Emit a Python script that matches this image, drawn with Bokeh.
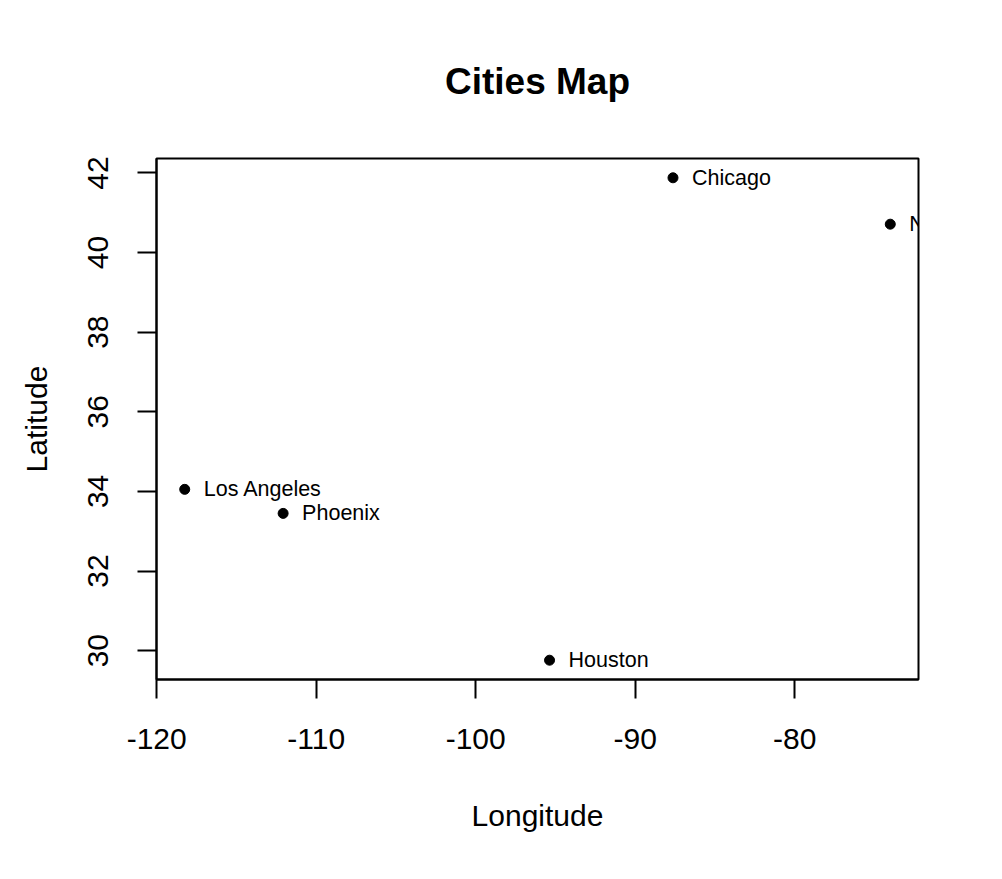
from bokeh.plotting import figure
from bokeh.models import ColumnDataSource, FixedTicker, Range1d, Title
from bokeh.embed import file_html
from bokeh.resources import INLINE
from bokeh.core.properties import value

cities = ["New York", "Los Angeles", "Chicago", "Houston", "Phoenix"]
lon = [-74.0060, -118.2437, -87.6298, -95.3698, -112.0740]
lat = [40.7128, 34.0522, 41.8781, 29.7604, 33.4484]
x_ticks = [-120, -110, -100, -90, -80]
y_ticks = [30, 32, 34, 36, 38, 40, 42]

def r_range(v):
    lo, hi = min(v), max(v)
    d = (hi - lo) * 0.04
    return lo - d, hi + d

xr = r_range(lon)
yr = r_range(lat)

FONT = "Liberation Sans"

p = figure(width=1002, height=879, output_backend="svg", toolbar_location=None,
           x_range=Range1d(*xr), y_range=Range1d(*yr),
           min_border_left=156, min_border_right=84, min_border_top=158, min_border_bottom=200)
p.grid.visible = False
p.background_fill_color = "white"
p.border_fill_color = "white"
p.outline_line_color = "black"
p.outline_line_width = 2

title = Title(text="Cities Map", text_font=FONT, text_font_size="37px", text_font_style="bold",
              align="center", text_color="black", standoff=114)
p.add_layout(title, "above")

for ax in (p.xaxis[0], p.yaxis[0]):
    ax.axis_line_color = "black"
    ax.axis_line_width = 2
    ax.major_tick_line_color = "black"
    ax.major_tick_line_width = 2
    ax.major_tick_out = 19
    ax.major_tick_in = 0
    ax.minor_tick_line_color = None
    ax.major_label_text_font = FONT
    ax.major_label_text_font_size = "30px"
    ax.major_label_text_color = "black"
    ax.axis_label_text_font = FONT
    ax.axis_label_text_font_size = "30px"
    ax.axis_label_text_font_style = "normal"
    ax.axis_label_text_color = "black"

p.xaxis.ticker = FixedTicker(ticks=x_ticks)
p.yaxis.ticker = FixedTicker(ticks=y_ticks)
p.xaxis.major_label_overrides = {t: str(t) for t in x_ticks}
p.yaxis.major_label_overrides = {t: str(t) for t in y_ticks}
p.xaxis.axis_label = "Longitude"
p.yaxis.axis_label = "Latitude"
p.yaxis.major_label_orientation = "vertical"
p.xaxis.major_label_standoff = 30
p.yaxis.major_label_standoff = 29
p.xaxis.axis_label_standoff = 47
p.yaxis.axis_label_standoff = 33

src = ColumnDataSource(dict(lon=lon, lat=lat, name=cities))
p.scatter("lon", "lat", source=src, size=10, color="black")
p.text("lon", "lat", text="name", source=src, x_offset=19, text_baseline="middle",
       text_align="left", text_font=value(FONT), text_font_size="21.5px", text_color="black")

open("out.html", "w").write(file_html(p, INLINE))
